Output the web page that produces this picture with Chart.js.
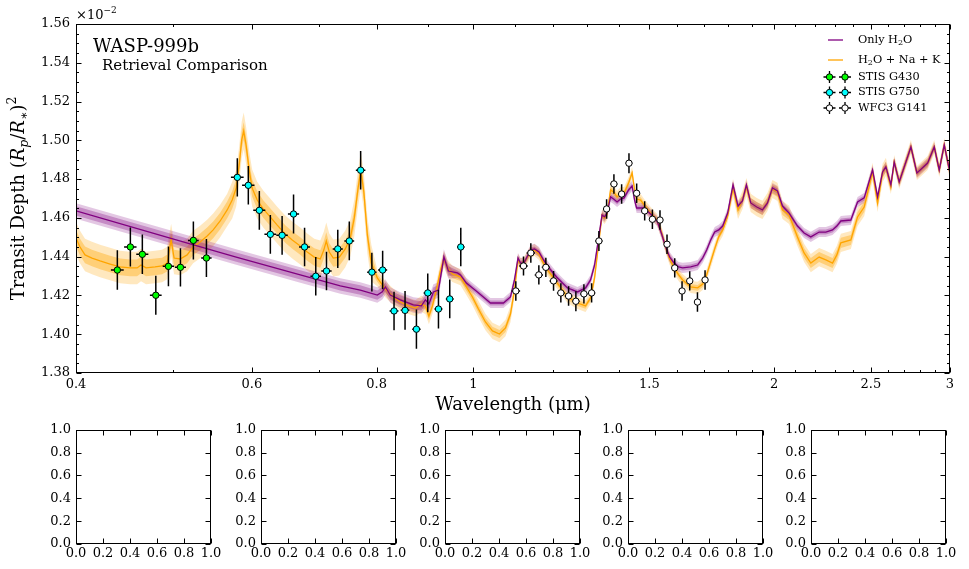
<!DOCTYPE html>
<html>
<head>
<meta charset="utf-8">
<title>WASP-999b retrieval comparison</title>
<script src="https://cdn.jsdelivr.net/npm/chart.js@4.4.1/dist/chart.umd.min.js"></script>
<style>
  html, body { margin:0; padding:0; background:#fff; }
  body { width:969px; height:569px; position:relative; overflow:hidden; }
  canvas { position:absolute; }
</style>
</head>
<body>
<canvas id="main" width="969" height="420" style="left:0;top:0"></canvas>
<canvas id="sub0" width="210" height="150"></canvas>
<canvas id="sub1" width="210" height="150"></canvas>
<canvas id="sub2" width="210" height="150"></canvas>
<canvas id="sub3" width="210" height="150"></canvas>
<canvas id="sub4" width="210" height="150"></canvas>
<script>
// Transit spectrum of WASP-999b: two retrieved models + STIS / WFC3 data
// depths are in units of 1e-2

const SERIF = "'DejaVu Serif', 'Liberation Serif', serif";

// --- model: H2O + Na + K (orange) ---
const fullWl = [0.400,0.4037,0.4084,0.4150,0.4228,0.4327,0.4428,0.4531,0.4605,0.4647,
  0.4701,0.4800,0.4878,0.4935,0.4981,0.5015,0.5085,0.5168,0.5240,0.5325,
  0.5412,0.5488,0.5577,0.5668,0.5734,0.5787,0.5827,0.5861,0.5888,0.5922,
  0.5963,0.6004,0.6074,0.6159,0.6259,0.6361,0.6480,0.6585,0.6708,0.6817,
  0.6928,0.7025,0.7082,0.7123,0.7172,0.7239,0.7340,0.7442,0.7528,0.7598,
  0.7660,0.7713,0.7767,0.7830,0.7902,0.8012,0.8162,0.8314,0.8449,0.8607,
  0.8747,0.8869,0.8951,0.9024,0.9097,0.9181,0.9266,0.9341,0.9417,0.9526,
  0.9704,0.9839,0.9977,1.0116,1.0280,1.0448,1.0618,1.0766,1.0891,1.0992,
  1.1081,1.1145,1.1236,1.1406,1.1511,1.1631,1.1753,1.1903,1.2111,1.2279,
  1.2422,1.2712,1.2949,1.3099,1.3221,1.3359,1.3451,1.3529,1.3608,1.3718,
  1.3813,1.3925,1.4038,1.4152,1.4300,1.4416,1.4499,1.4566,1.4702,1.4821,
  1.5045,1.5272,1.5432,1.5575,1.5719,1.5883,1.6049,1.6198,1.6500,1.6768,
  1.6963,1.7120,1.7279,1.7439,1.7601,1.7764,1.7970,1.8192,1.8403,1.8591,
  1.8763,1.8950,1.9214,1.9469,1.9695,1.9923,2.0155,2.0389,2.0702,2.1107,
  2.1431,2.1765,2.2186,2.2532,2.2883,2.3111,2.3325,2.3870,2.4242,2.4614,
  2.5096,2.5387,2.5682,2.5878,2.6178,2.6378,2.6685,2.7415,2.7797,2.8492,
  2.8930,2.9265,2.9605,3.000];
const fullDepth = [1.4496,1.4450,1.4409,1.4393,1.4378,1.4362,1.4347,1.4342,1.4342,1.4357,
  1.4342,1.4347,1.4352,1.4367,1.4486,1.4393,1.4388,1.4409,1.4450,1.4476,
  1.4507,1.4538,1.4584,1.4641,1.4692,1.4754,1.4873,1.5002,1.5048,1.4971,
  1.4847,1.4754,1.4692,1.4646,1.4605,1.4563,1.4517,1.4486,1.4455,1.4424,
  1.4398,1.4388,1.4434,1.4481,1.4424,1.4393,1.4398,1.4440,1.4496,1.4600,
  1.4744,1.4847,1.4734,1.4512,1.4367,1.4290,1.4233,1.4192,1.4166,1.4146,
  1.4135,1.4156,1.4146,1.4094,1.4146,1.4228,1.4326,1.4388,1.4342,1.4311,
  1.4295,1.4244,1.4192,1.4130,1.4063,1.4017,1.4001,1.4032,1.4104,1.4228,
  1.4383,1.4362,1.4367,1.4424,1.4434,1.4414,1.4367,1.4321,1.4269,1.4228,
  1.4192,1.4161,1.4146,1.4187,1.4290,1.4486,1.4615,1.4600,1.4620,1.4744,
  1.4734,1.4708,1.4728,1.4728,1.4780,1.4832,1.4744,1.4697,1.4692,1.4667,
  1.4625,1.4589,1.4522,1.4450,1.4388,1.4342,1.4306,1.4280,1.4244,1.4239,
  1.4259,1.4306,1.4373,1.4440,1.4502,1.4538,1.4610,1.4754,1.4641,1.4692,
  1.4759,1.4677,1.4656,1.4641,1.4682,1.4749,1.4734,1.4641,1.4615,1.4502,
  1.4419,1.4367,1.4398,1.4383,1.4367,1.4409,1.4471,1.4486,1.4605,1.4656,
  1.4837,1.4677,1.4832,1.4863,1.4759,1.4888,1.4785,1.4966,1.4832,1.4883,
  1.4966,1.4847,1.4976,1.4832];
// 1-sigma / 2-sigma half widths, per wavelength range (upper edges)
const fullBandEdge = [0.57, 0.80, 1.10, 1.80, 2.60, 3.01];
const fullSig1 = [0.0043, 0.0045, 0.0021, 0.0015, 0.0026, 0.0021];
const fullSig2 = [0.0084, 0.0095, 0.0042, 0.0031, 0.0047, 0.0036];

// --- model: only H2O (purple) ---
const h2oWl = [0.400,0.4969,0.5787,0.6708,0.7357,0.7704,0.8012,0.8105,0.8162,0.8256,
  0.8449,0.8706,0.8869,0.8951,0.9024,0.9118,0.9224,0.9341,0.9439,0.9637,
  0.9704,0.9839,1.0092,1.0400,1.0716,1.0891,1.0992,
  1.1081,1.1145,1.1236,1.1406,1.1511,1.1631,1.1753,1.1903,1.2111,1.2279,
  1.2422,1.2712,1.2949,1.3099,1.3221,1.3359,1.3451,1.3529,1.3608,1.3718,
  1.3813,1.3925,1.4038,1.4152,1.4300,1.4416,1.4499,1.4566,1.4702,1.4821,
  1.5045,1.5272,1.5432,1.5575,1.5719,1.5883,1.6049,1.6198,1.6500,1.6768,
  1.6963,1.7120,1.7279,1.7439,1.7601,1.7764,1.7970,1.8192,1.8403,1.8591,
  1.8763,1.8950,1.9214,1.9469,1.9695,1.9923,2.0155,2.0389,2.0702,2.1107,
  2.1431,2.1765,2.2186,2.2532,2.2883,2.3111,2.3325,2.3870,2.4242,2.4614,
  2.5096,2.5387,2.5682,2.5878,2.6178,2.6378,2.6685,2.7415,2.7797,2.8492,
  2.8930,2.9265,2.9605,3.000];
const h2oDepth = [1.4636,1.4496,1.4398,1.4306,1.4249,1.4228,1.4202,1.4219,1.4244,1.4202,
  1.4177,1.4151,1.4146,1.4177,1.4156,1.4218,1.4228,1.4398,1.4326,1.4316,
  1.4306,1.4264,1.4218,1.4161,1.4161,1.4192,1.4280,
  1.4393,1.4367,1.4367,1.4434,1.4440,1.4424,1.4383,1.4342,1.4295,1.4264,
  1.4239,1.4218,1.4239,1.4280,1.4357,1.4512,1.4615,1.4605,1.4625,1.4708,
  1.4697,1.4682,1.4697,1.4703,1.4744,1.4765,1.4692,1.4651,1.4651,1.4651,
  1.4620,1.4584,1.4517,1.4450,1.4398,1.4367,1.4347,1.4342,1.4347,1.4357,
  1.4393,1.4434,1.4486,1.4527,1.4538,1.4558,1.4625,1.4770,1.4661,1.4687,
  1.4770,1.4677,1.4656,1.4641,1.4677,1.4754,1.4739,1.4661,1.4625,1.4558,
  1.4522,1.4502,1.4527,1.4527,1.4538,1.4558,1.4584,1.4589,1.4682,1.4703,
  1.4847,1.4708,1.4837,1.4863,1.4770,1.4888,1.4785,1.4966,1.4832,1.4883,
  1.4966,1.4847,1.4976,1.4832];
const h2oBandEdge = [0.95, 3.01];
const h2oSig1 = [0.0024, 0.0013];
const h2oSig2 = [0.0040, 0.0026];

// --- observations ---
const g430Wl    = [0.4400,0.4534,0.4661,0.4808,0.4950,0.5089,0.5243,0.5403];
const g430Depth = [1.4331,1.4450,1.4412,1.4201,1.4350,1.4345,1.4484,1.4393];
const g430Err   = [0.0102,0.0101,0.0102,0.0101,0.0103,0.0099,0.0098,0.0098];
const g430Bin   = 0.0065;

const g750Wl    = [0.5802,0.5951,0.6104,0.6261,0.6433,0.6605,0.6775,0.6952,0.7126,0.7314,
  0.7511,0.7710,0.7912,0.8111,0.8327,0.8541,0.8768,0.9000,0.9225,0.9468,0.9712];
const g750Depth = [1.4809,1.4768,1.4639,1.4515,1.4510,1.4620,1.4450,1.4299,1.4326,1.4440,
  1.4481,1.4846,1.4320,1.4331,1.4120,1.4123,1.4026,1.4213,1.4130,1.4182,1.4450];
const g750Err   = [0.0099,0.0099,0.0100,0.0100,0.0100,0.0101,0.0099,0.0099,0.0099,0.0099,
  0.0100,0.0099,0.0100,0.0099,0.0099,0.0100,0.0101,0.0100,0.0100,0.0100,0.0099];
const g750Bin   = 0.0085;

const wfc3Wl    = [1.1026,1.1223,1.1414,1.1627,1.1816,1.2028,1.2232,1.2452,1.2663,1.2900,
  1.3131,1.3354,1.3593,1.3824,1.4072,1.4312,1.4568,1.4840,1.5106,1.5373,
  1.5624,1.5904,1.6175,1.6464,1.6760,1.7056];
const wfc3Depth = [1.4223,1.4352,1.4419,1.4306,1.4345,1.4275,1.4213,1.4197,1.4170,1.4208,
  1.4213,1.4481,1.4646,1.4775,1.4723,1.4882,1.4727,1.4636,1.4593,1.4589,
  1.4464,1.4342,1.4223,1.4275,1.4166,1.4280];
const wfc3Err   = [0.0050,0.0049,0.0050,0.0050,0.0050,0.0051,0.0050,0.0050,0.0051,0.0050,
  0.0050,0.0052,0.0050,0.0050,0.0050,0.0052,0.0050,0.0050,0.0050,0.0050,
  0.0050,0.0050,0.0050,0.0050,0.0050,0.0050];
const wfc3Bin   = 0.011;

// --- axes ---
const xTickVals   = [0.4, 0.6, 0.8, 1, 1.5, 2, 2.5, 3];
const xTickLabels = ['0.4', '0.6', '0.8', '1', '1.5', '2', '2.5', '3'];
const xMinorVals  = [0.5, 0.7, 0.9, 1.1, 1.2, 1.3, 1.4, 1.6, 1.7, 1.8, 1.9,
  2.1, 2.2, 2.3, 2.4, 2.6, 2.7, 2.8, 2.9];
const yTickVals   = [1.38, 1.40, 1.42, 1.44, 1.46, 1.48, 1.50, 1.52, 1.54, 1.56];
const subTickVals = [0, 0.2, 0.4, 0.6, 0.8, 1.0];

const PURPLE = '#800080', ORANGE = '#ffa500';

function pick(wl, edges, widths){
  for(let i = 0; i < edges.length; i++) if(wl <= edges[i]) return widths[i];
  return widths[widths.length - 1];
}
function pts(wl, d){ return wl.map((w, i) => ({x: w, y: d[i]})); }
function band(wl, d, edges, sig, sign){
  return wl.map((w, i) => ({x: w, y: d[i] + sign * pick(w, edges, sig)}));
}

function bandSets(wl, d, edges, sig, color, order){
  return [
    {data: band(wl, d, edges, sig, -1), showLine:true, borderWidth:0, pointRadius:0, fill:false, order},
    {data: band(wl, d, edges, sig, +1), showLine:true, borderWidth:0, pointRadius:0,
     fill:'-1', backgroundColor:color, order: order - 1}
  ];
}
function obsSet(wl, d, err, bin, color, order){
  return {
    data: pts(wl, d), errY: err, errX: bin, showLine:false,
    pointRadius:3.2, pointHoverRadius:3.2, pointBackgroundColor:color,
    pointBorderColor:'#000', pointBorderWidth:1, order
  };
}

const datasets = [
  ...bandSets(fullWl, fullDepth, fullBandEdge, fullSig2, 'rgba(255,165,0,0.25)', 20),
  ...bandSets(fullWl, fullDepth, fullBandEdge, fullSig1, 'rgba(255,165,0,0.38)', 18),
  ...bandSets(h2oWl, h2oDepth, h2oBandEdge, h2oSig2, 'rgba(128,0,128,0.22)', 16),
  ...bandSets(h2oWl, h2oDepth, h2oBandEdge, h2oSig1, 'rgba(128,0,128,0.30)', 14),
  {data: pts(fullWl, fullDepth), showLine:true, borderColor:ORANGE, borderWidth:1.3, pointRadius:0, fill:false, order:12},
  {data: pts(h2oWl, h2oDepth), showLine:true, borderColor:PURPLE, borderWidth:1.3, pointRadius:0, fill:false, order:11},
  obsSet(g430Wl, g430Depth, g430Err, g430Bin, '#00ff00', 3),
  obsSet(g750Wl, g750Depth, g750Err, g750Bin, '#00ffff', 2),
  obsSet(wfc3Wl, wfc3Depth, wfc3Err, wfc3Bin, '#ffffff', 1)
];

// frame + inward ticks on all four sides (matplotlib classic look)
const frameTicks = {
  id: 'frameTicks',
  afterDraw(chart, args, o){
    const {ctx, chartArea: a, scales: {x, y}} = chart;
    const L = Math.round(a.left) + 0.5, R = Math.round(a.right) - 0.5;
    const T = Math.round(a.top) + 0.5, B = Math.round(a.bottom) - 0.5;
    ctx.save();
    ctx.strokeStyle = '#000';
    ctx.lineWidth = 1;
    ctx.beginPath();
    const xt = (vals, len) => vals.forEach(v => {
      const px = Math.round(x.getPixelForValue(v)) + 0.5;
      ctx.moveTo(px, B); ctx.lineTo(px, B - len);
      ctx.moveTo(px, T); ctx.lineTo(px, T + len);
    });
    const yt = (vals, len) => vals.forEach(v => {
      const py = Math.round(y.getPixelForValue(v)) + 0.5;
      ctx.moveTo(L, py); ctx.lineTo(L + len, py);
      ctx.moveTo(R, py); ctx.lineTo(R - len, py);
    });
    xt(o.xMajor, o.major);
    yt(o.yMajor, o.major);
    if(o.xMinor) xt(o.xMinor, o.minor);
    if(o.yMinorStep){
      const minor = [];
      for(let v = y.min; v < y.max; v += o.yMinorStep){
        const r = Math.round(v * 1e5) / 1e5;
        if(!o.yMajor.some(m => Math.abs(m - r) < 1e-6)) minor.push(r);
      }
      yt(minor, o.minor);
    }
    ctx.stroke();
    ctx.strokeRect(L, T, R - L, B - T);
    ctx.restore();
  }
};

// error bars drawn just under each observation set
const errorBars = {
  id: 'errorBars',
  beforeDatasetDraw(chart, args){
    const ds = chart.data.datasets[args.index];
    if(!ds.errY) return;
    const {ctx, scales: {x, y}} = chart;
    ctx.save();
    ctx.strokeStyle = '#000';
    ctx.lineWidth = 1.5;
    ctx.beginPath();
    ds.data.forEach((p, i) => {
      const px = x.getPixelForValue(p.x), py = y.getPixelForValue(p.y);
      ctx.moveTo(px, y.getPixelForValue(p.y - ds.errY[i]));
      ctx.lineTo(px, y.getPixelForValue(p.y + ds.errY[i]));
      ctx.moveTo(x.getPixelForValue(p.x - ds.errX), py);
      ctx.lineTo(x.getPixelForValue(p.x + ds.errX), py);
    });
    ctx.stroke();
    ctx.restore();
  }
};

function drawRich(ctx, x, y, parts){
  parts.forEach(p => {
    ctx.font = p[1];
    ctx.fillText(p[0], x, y + (p[2] || 0));
    x += ctx.measureText(p[0]).width;
  });
}
function richWidth(ctx, parts){
  let w = 0;
  parts.forEach(p => { ctx.font = p[1]; w += ctx.measureText(p[0]).width; });
  return w;
}

const f = (s, st) => `${st ? st + ' ' : ''}${s}px ${SERIF}`;

const legendRows = [
  {type:'line', color:PURPLE, y:40, text:[['Only H', f(11.3)], ['2', f(8), 3], ['O', f(11.3)]]},
  {type:'line', color:ORANGE, y:60, text:[['H', f(11.3)], ['2', f(8), 3], ['O + Na + K', f(11.3)]]},
  {type:'pt', color:'#00ff00', y:77, text:[['STIS G430', f(11.3)]]},
  {type:'pt', color:'#00ffff', y:92.5, text:[['STIS G750', f(11.3)]]},
  {type:'pt', color:'#ffffff', y:108, text:[['WFC3 G141', f(11.3)]]}
];

const annotations = {
  id: 'annotations',
  afterDraw(chart){
    const {ctx, chartArea: a} = chart;
    ctx.save();
    ctx.fillStyle = '#000';
    ctx.textBaseline = 'alphabetic';
    ctx.textAlign = 'left';

    // offset text
    drawRich(ctx, a.left, 19, [['\u00d710', f(13)], ['\u22122', f(9), -6]]);

    // title block
    ctx.font = f(18);
    ctx.fillText('WASP-999b', 93, 52);
    ctx.font = f(15);
    ctx.fillText('Retrieval Comparison', 102, 70);

    // legend
    legendRows.forEach(r => {
      if(r.type === 'line'){
        ctx.strokeStyle = r.color;
        ctx.lineWidth = 1.3;
        ctx.beginPath();
        ctx.moveTo(828, r.y); ctx.lineTo(843, r.y);
        ctx.stroke();
      } else {
        [829.5, 845].forEach(cx => {
          ctx.strokeStyle = '#000';
          ctx.lineWidth = 1.3;
          ctx.beginPath();
          ctx.moveTo(cx - 6, r.y); ctx.lineTo(cx + 6, r.y);
          ctx.moveTo(cx, r.y - 6); ctx.lineTo(cx, r.y + 6);
          ctx.stroke();
          ctx.beginPath();
          ctx.arc(cx, r.y, 3.2, 0, Math.PI * 2);
          ctx.fillStyle = r.color;
          ctx.fill();
          ctx.lineWidth = 1;
          ctx.stroke();
        });
      }
      ctx.fillStyle = '#000';
      ctx.textBaseline = 'middle';
      drawRich(ctx, 858, r.y, r.text);
      ctx.textBaseline = 'alphabetic';
    });

    // x axis title
    ctx.font = f(18);
    ctx.textAlign = 'center';
    ctx.fillText('Wavelength (\u03bcm)', (a.left + a.right) / 2, 410);
    ctx.textAlign = 'left';

    // y axis title, rotated, with math parts
    const yParts = [['Transit Depth ', f(18)], ['(', f(18)], ['R', f(18, 'italic')],
      ['p', f(12.5, 'italic'), 4], ['/', f(18)], ['R', f(18, 'italic')], ['\u2217', f(12.5), 4],
      [')', f(18)], ['2', f(12.5), -8]];
    ctx.translate(24, (a.top + a.bottom) / 2);
    ctx.rotate(-Math.PI / 2);
    drawRich(ctx, -richWidth(ctx, yParts) / 2, 0, yParts);
    ctx.restore();
  }
};

new Chart(document.getElementById('main'), {
  type: 'scatter',
  data: {datasets},
  options: {
    responsive: false,
    animation: false,
    devicePixelRatio: 1,
    layout: {padding: {left: 0, right: 19, top: 24, bottom: 0}},
    plugins: {
      legend: {display: false},
      tooltip: {enabled: false},
      frameTicks: {xMajor: xTickVals, xMinor: xMinorVals, yMajor: yTickVals, yMinorStep: 0.005, major: 5, minor: 2.5}
    },
    scales: {
      x: {
        type: 'logarithmic', min: 0.4, max: 3,
        afterBuildTicks: s => { s.ticks = xTickVals.map(v => ({value: v})); },
        afterFit: s => { s.height = 47; },
        grid: {display: false, drawTicks: false},
        border: {display: false},
        ticks: {padding: 4, color: '#000', font: {family: SERIF, size: 13}, autoSkip: false, maxRotation: 0,
                callback: (v, i) => xTickLabels[i]}
      },
      y: {
        min: 1.38, max: 1.56,
        afterBuildTicks: s => { s.ticks = yTickVals.map(v => ({value: v})); },
        afterFit: s => { s.width = 76; },
        grid: {display: false, drawTicks: false},
        border: {display: false},
        ticks: {padding: 6, color: '#000', font: {family: SERIF, size: 13}, callback: v => v.toFixed(2)}
      }
    }
  },
  plugins: [errorBars, frameTicks, annotations]
});

// five empty panels under the spectrum
const subLeft = [76, 261, 445, 628, 811];
subLeft.forEach((left, k) => {
  const cv = document.getElementById('sub' + k);
  cv.style.left = (left - 60) + 'px';
  cv.style.top = '417px';
  new Chart(cv, {
    type: 'scatter',
    data: {datasets: []},
    options: {
      responsive: false,
      animation: false,
      devicePixelRatio: 1,
      layout: {padding: {left: 0, right: 15, top: 10, bottom: 0}},
      plugins: {
        legend: {display: false},
        tooltip: {enabled: false},
        frameTicks: {xMajor: subTickVals, yMajor: subTickVals, major: 5, minor: 2.5}
      },
      scales: {
        x: {
          type: 'linear', min: 0, max: 1,
          afterBuildTicks: s => { s.ticks = subTickVals.map(v => ({value: v})); },
          afterFit: s => { s.height = 23; },
          grid: {display: false, drawTicks: false},
          border: {display: false},
          ticks: {padding: 2, color: '#000', font: {family: SERIF, size: 13}, autoSkip: false, maxRotation: 0,
                  callback: v => v.toFixed(1)}
        },
        y: {
          min: 0, max: 1,
          afterBuildTicks: s => { s.ticks = subTickVals.map(v => ({value: v})); },
          afterFit: s => { s.width = 60; },
          grid: {display: false, drawTicks: false},
          border: {display: false},
          ticks: {padding: 5, color: '#000', font: {family: SERIF, size: 13}, callback: v => v.toFixed(1)}
        }
      }
    },
    plugins: [frameTicks]
  });
});
</script>
</body>
</html>
